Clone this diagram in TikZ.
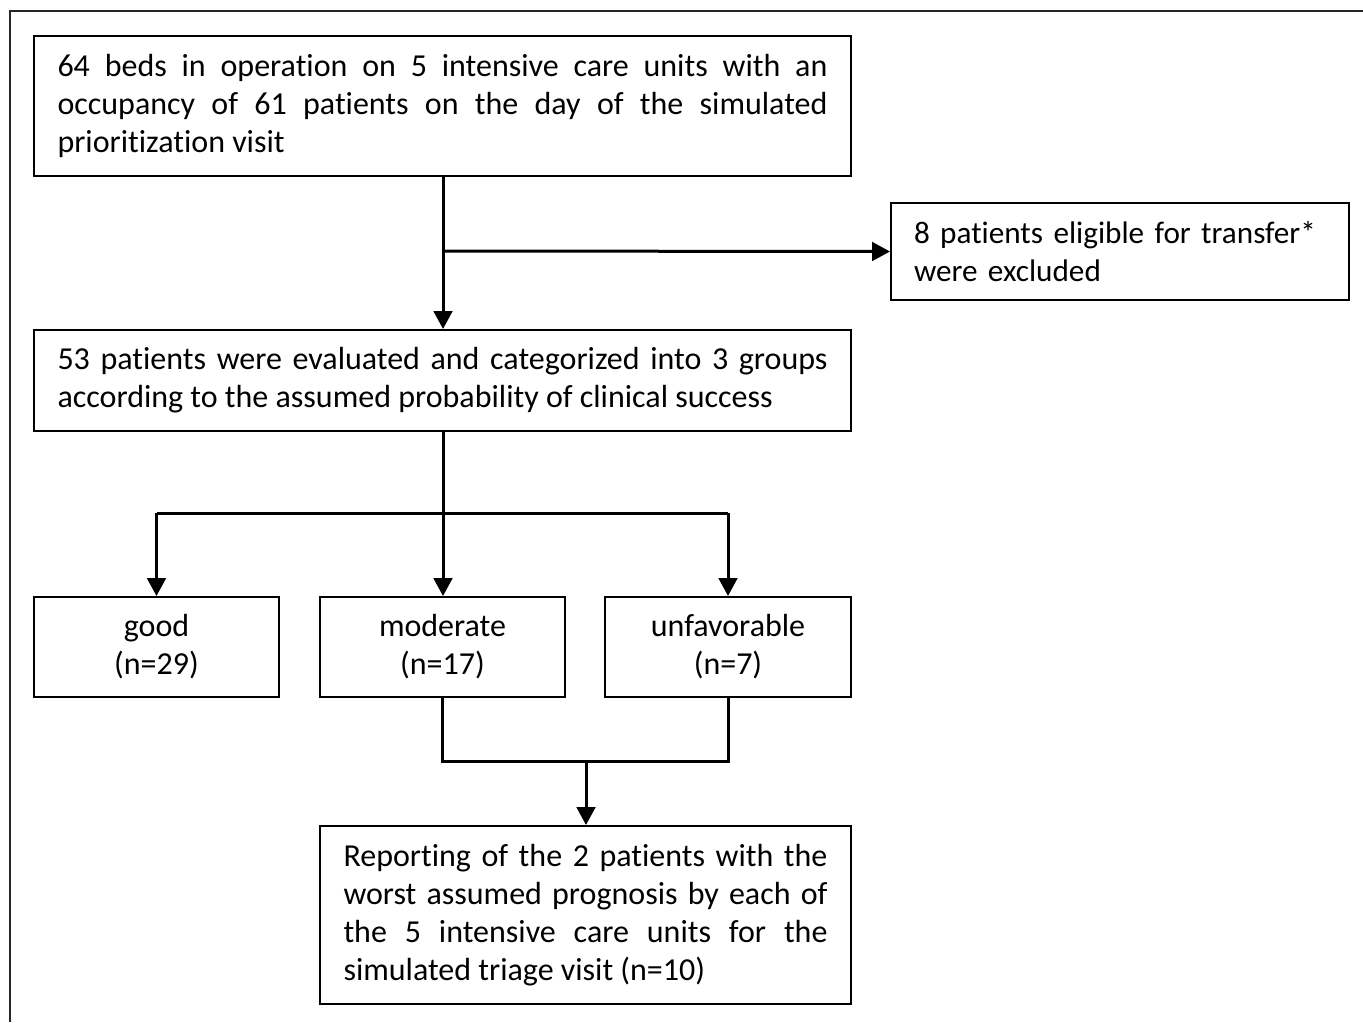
\documentclass[tikz,border=0pt]{standalone}
\usepackage{fontspec}
\setmainfont{Carlito}[Ligatures=NoCommon]
\usetikzlibrary{arrows.meta}
\begin{document}
\begin{tikzpicture}[x=0.75pt,y=-0.75pt,
  box/.style={draw=black,line width=1.5pt,rectangle,inner xsep=17.25pt,inner ysep=0pt,
    font=\fontsize{24pt}{28.5pt}\selectfont},
  conn/.style={line width=2.25pt,-{Triangle[length=13.5pt,width=14pt]}},
  plain/.style={line width=2.25pt}]
\useasboundingbox (0,0) rectangle (1363,1022);
\draw[line width=1.5pt,color=black!85] (10,1022) -- (10,11) -- (1363,11);
\node[box,minimum width=612.75pt,minimum height=105pt,text width=577.5pt,align=justify] (b1) at (442.5,106)
  {64 beds in operation on 5 intensive care units with an\linebreak occupancy of 61 patients on the day of the simulated\linebreak prioritization visit};
\node[box,minimum width=343.5pt,minimum height=72.75pt,text width=309pt,align=left,
  font=\fontsize{23.4pt}{28.5pt}\selectfont] (ex) at (1120,251.5)
  {\mbox{8 patients eligible for transfer*}\\\mbox{were excluded}};
\node[box,minimum width=612.75pt,minimum height=75.75pt,text width=577.5pt,align=justify] (b2) at (442.5,380.5)
  {53 patients were evaluated and categorized into 3 groups\linebreak according to the assumed probability of clinical success};
\node[box,minimum width=183.75pt,minimum height=75pt,text width=149pt,align=center] (g) at (156.5,647)
  {good\\(n=29)};
\node[box,minimum width=183.75pt,minimum height=75pt,text width=149pt,align=center] (m) at (442.5,647)
  {moderate\\(n=17)};
\node[box,minimum width=184.5pt,minimum height=75pt,text width=150pt,align=center] (u) at (728,647)
  {unfavorable\\(n=7)};
\node[box,minimum width=398.25pt,minimum height=133.5pt,text width=363pt,align=justify] (f) at (585.5,915)
  {Reporting of the 2 patients with the\linebreak worst assumed prognosis by each of\linebreak the 5 intensive care units for the\linebreak simulated triage visit (n=10)};
\coordinate (br) at (443,251);
\coordinate (sp) at (443,513);
\coordinate (mg) at (586,761);
\draw[conn] (b1.south -| br) -- (b2.north -| br);
\draw[conn] (br) -- (ex.west);
\draw[conn] (b2.south -| sp) -- (m.north -| sp);
\draw[conn] (sp -| g) -- (g.north);
\draw[conn] (sp -| u) -- (u.north);
\draw[plain] (sp -| g) -- (sp -| u);
\draw[plain] (m.south) -- (m.south |- mg) -- (u.south |- mg) -- (u.south);
\draw[conn] (mg) -- (f.north -| mg);
\end{tikzpicture}
\end{document}
